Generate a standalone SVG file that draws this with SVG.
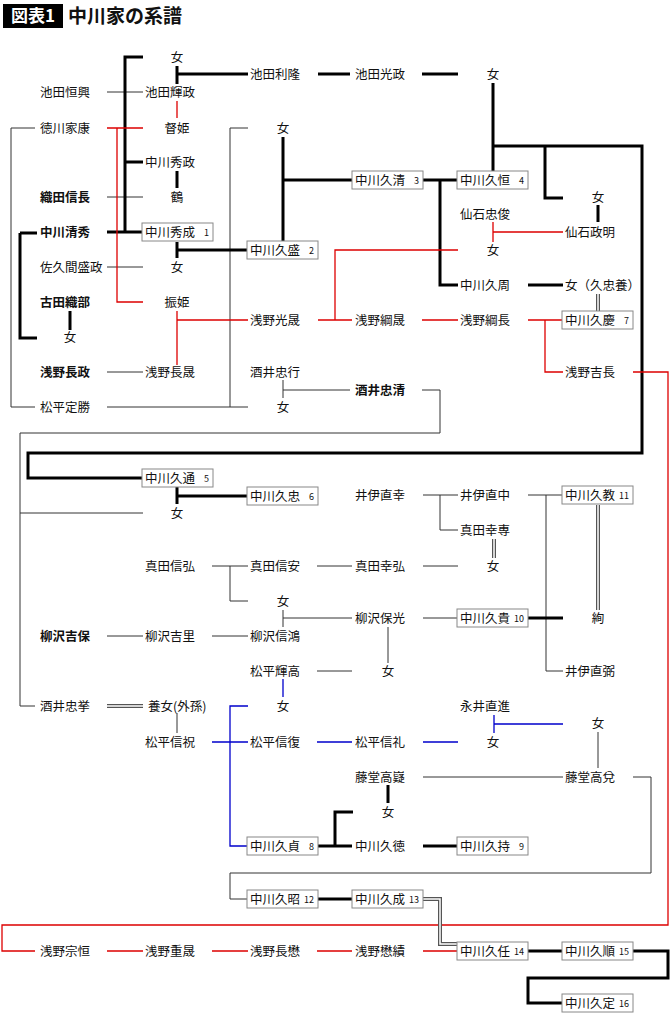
<svg xmlns="http://www.w3.org/2000/svg" width="670" height="1016" viewBox="0 0 670 1016">
<style>
text{font-family:"Noto Sans CJK JP","Noto Sans CJK SC",sans-serif;font-size:12.5px;fill:#111}
.c{text-anchor:middle}.b{font-weight:bold}
.n{font-size:9px;text-anchor:end}
rect.bx{fill:#fff;stroke:#888;stroke-width:1}
path{fill:none}
.t{stroke:#333;stroke-width:1}
.k{stroke:#000;stroke-width:3}
.r{stroke:#d00;stroke-width:1.3}
.u{stroke:#0000cc;stroke-width:1.3}
.d1{stroke:#555;stroke-width:4}
.d2{stroke:#fff;stroke-width:1.5}
</style>
<rect width="670" height="1016" fill="#fff"/>
<g id="title"><rect x="3" y="4" width="60" height="24" fill="#000"/><text x="33" y="22" class="c b" style="font-size:17px;fill:#fff">図表1</text><text x="68" y="23" class="b" style="font-size:19px">中川家の系譜</text></g>
<g id="connectors">
<path class="t" d="M107 92H143M107 197H143M107 267H143M107 372H143M35 128H11V407H35M107 407H248M248 128H230V407M283 380V398M283 390H350M422 390H440V433H20V706H35M20 513H143M423 495H458M440 495V530H458M528 495H563M546 495V671H563M212 566H248M230 566V601H248M317 566H352M423 566H458M283 610V627M283 618H352M423 618H458M388 627V663M107 636H143M212 636H248M317 671H352M177 713V733M598 732V768M423 777H563M633 777H651V873H230V899H248"/>
<path class="k" d="M143 57H125V232M125 162H143M107 232H143M177 66V84M177 74H248M318 74H350M422 74H458M177 171V188M177 242V258M177 250H248M20 233H37M20 233V338H37M70 311V330M283 137V241M283 180H352M493 83V171M493 146H642V453H28V478H143M545 146V198H563M423 180H458M440 180V285H458M598 205V222M528 285H563M177 487V504M177 496H248M528 618H563M388 785V803M353 812H335V846M318 846H352M423 846H458M318 899H352M528 951H563M633 951H668V978H528V1003H563"/>
<path class="r" d="M107 128H143M117 128V302H143M177 101V118M177 311V365M177 320H248M563 232H493M493 222V242M318 320H352M335 320V250H458M422 320H458M528 320H563M545 320V372H563M633 372H668V925H2V951H35M107 951H143M212 951H248M317 951H352M423 951H458"/>
<path class="u" d="M283 679V697M248 706H230V846H248M212 742H248M317 742H352M423 742H458M494 715V733M494 724H563"/>
<path class="d1" d="M598 294V312M598 505V610M494 539V558M107 706H143M423 899H440V944H458"/>
<path class="d2" d="M598 294V312M598 505V610M494 539V558M107 706H143M423 899H440V944H458"/>
</g>
<g id="n1"><text x="177" y="62" class="c">女</text></g>
<g id="n2"><text x="250" y="79">池田利隆</text></g>
<g id="n3"><text x="355" y="79">池田光政</text></g>
<g id="n4"><text x="493" y="79" class="c">女</text></g>
<g id="n5"><text x="40" y="97">池田恒興</text></g>
<g id="n6"><text x="145" y="97">池田輝政</text></g>
<g id="n7"><text x="40" y="133">徳川家康</text></g>
<g id="n8"><text x="177" y="133" class="c">督姫</text></g>
<g id="n9"><text x="283" y="133" class="c">女</text></g>
<g id="n10"><text x="145" y="167">中川秀政</text></g>
<g id="n11"><text x="40" y="202" class="b">織田信長</text></g>
<g id="n12"><text x="177" y="202" class="c">鶴</text></g>
<g id="n13"><rect class="bx" x="352" y="171" width="71" height="18"/><text x="355" y="185">中川久清</text><text x="419" y="184" class="n">3</text></g>
<g id="n14"><rect class="bx" x="457" y="171" width="71" height="18"/><text x="460" y="185">中川久恒</text><text x="524" y="184" class="n">4</text></g>
<g id="n15"><text x="598" y="202" class="c">女</text></g>
<g id="n16"><text x="460" y="219">仙石忠俊</text></g>
<g id="n17"><text x="40" y="237" class="b">中川清秀</text></g>
<g id="n18"><rect class="bx" x="142" y="223" width="71" height="18"/><text x="145" y="237">中川秀成</text><text x="209" y="236" class="n">1</text></g>
<g id="n19"><text x="565" y="237">仙石政明</text></g>
<g id="n20"><rect class="bx" x="247" y="241" width="71" height="18"/><text x="250" y="255">中川久盛</text><text x="314" y="254" class="n">2</text></g>
<g id="n21"><text x="493" y="255" class="c">女</text></g>
<g id="n22"><text x="40" y="272">佐久間盛政</text></g>
<g id="n23"><text x="177" y="272" class="c">女</text></g>
<g id="n24"><text x="460" y="290">中川久周</text></g>
<g id="n25"><text x="565" y="290">女（久忠養）</text></g>
<g id="n26"><text x="40" y="307" class="b">古田織部</text></g>
<g id="n27"><text x="177" y="307" class="c">振姫</text></g>
<g id="n28"><text x="250" y="325">浅野光晟</text></g>
<g id="n29"><text x="355" y="325">浅野綱晟</text></g>
<g id="n30"><text x="460" y="325">浅野綱長</text></g>
<g id="n31"><rect class="bx" x="562" y="311" width="71" height="18"/><text x="565" y="325">中川久慶</text><text x="629" y="324" class="n">7</text></g>
<g id="n32"><text x="70" y="342" class="c">女</text></g>
<g id="n33"><text x="40" y="377" class="b">浅野長政</text></g>
<g id="n34"><text x="145" y="377">浅野長晟</text></g>
<g id="n35"><text x="250" y="377">酒井忠行</text></g>
<g id="n36"><text x="565" y="377">浅野吉長</text></g>
<g id="n37"><text x="355" y="395" class="b">酒井忠清</text></g>
<g id="n38"><text x="40" y="412">松平定勝</text></g>
<g id="n39"><text x="283" y="412" class="c">女</text></g>
<g id="n40"><rect class="bx" x="142" y="469" width="71" height="18"/><text x="145" y="483">中川久通</text><text x="209" y="482" class="n">5</text></g>
<g id="n41"><rect class="bx" x="247" y="487" width="71" height="18"/><text x="250" y="501">中川久忠</text><text x="314" y="500" class="n">6</text></g>
<g id="n42"><text x="177" y="518" class="c">女</text></g>
<g id="n43"><text x="355" y="500">井伊直幸</text></g>
<g id="n44"><text x="460" y="500">井伊直中</text></g>
<g id="n45"><rect class="bx" x="562" y="486" width="71" height="18"/><text x="565" y="500">中川久教</text><text x="629" y="499" class="n">11</text></g>
<g id="n46"><text x="460" y="535">真田幸専</text></g>
<g id="n47"><text x="145" y="571">真田信弘</text></g>
<g id="n48"><text x="250" y="571">真田信安</text></g>
<g id="n49"><text x="355" y="571">真田幸弘</text></g>
<g id="n50"><text x="493" y="571" class="c">女</text></g>
<g id="n51"><text x="283" y="606" class="c">女</text></g>
<g id="n52"><text x="355" y="623">柳沢保光</text></g>
<g id="n53"><rect class="bx" x="457" y="609" width="71" height="18"/><text x="460" y="623">中川久貴</text><text x="524" y="622" class="n">10</text></g>
<g id="n54"><text x="598" y="623" class="c">絢</text></g>
<g id="n55"><text x="40" y="641" class="b">柳沢吉保</text></g>
<g id="n56"><text x="145" y="641">柳沢吉里</text></g>
<g id="n57"><text x="250" y="641">柳沢信鴻</text></g>
<g id="n58"><text x="250" y="676">松平輝高</text></g>
<g id="n59"><text x="388" y="676" class="c">女</text></g>
<g id="n60"><text x="565" y="676">井伊直弼</text></g>
<g id="n61"><text x="40" y="711">酒井忠挙</text></g>
<g id="n62"><text x="148" y="711">養女(外孫)</text></g>
<g id="n63"><text x="283" y="711" class="c">女</text></g>
<g id="n64"><text x="460" y="711">永井直進</text></g>
<g id="n65"><text x="598" y="728" class="c">女</text></g>
<g id="n66"><text x="145" y="747">松平信祝</text></g>
<g id="n67"><text x="250" y="747">松平信復</text></g>
<g id="n68"><text x="355" y="747">松平信礼</text></g>
<g id="n69"><text x="493" y="747" class="c">女</text></g>
<g id="n70"><text x="355" y="782">藤堂高嶷</text></g>
<g id="n71"><text x="565" y="782">藤堂高兌</text></g>
<g id="n72"><text x="388" y="817" class="c">女</text></g>
<g id="n73"><rect class="bx" x="247" y="837" width="71" height="18"/><text x="250" y="851">中川久貞</text><text x="314" y="850" class="n">8</text></g>
<g id="n74"><text x="355" y="851">中川久徳</text></g>
<g id="n75"><rect class="bx" x="457" y="837" width="71" height="18"/><text x="460" y="851">中川久持</text><text x="524" y="850" class="n">9</text></g>
<g id="n76"><rect class="bx" x="247" y="890" width="71" height="18"/><text x="250" y="904">中川久昭</text><text x="314" y="903" class="n">12</text></g>
<g id="n77"><rect class="bx" x="352" y="890" width="71" height="18"/><text x="355" y="904">中川久成</text><text x="419" y="903" class="n">13</text></g>
<g id="n78"><text x="40" y="956">浅野宗恒</text></g>
<g id="n79"><text x="145" y="956">浅野重晟</text></g>
<g id="n80"><text x="250" y="956">浅野長懋</text></g>
<g id="n81"><text x="355" y="956">浅野懋績</text></g>
<g id="n82"><rect class="bx" x="457" y="942" width="71" height="18"/><text x="460" y="956">中川久任</text><text x="524" y="955" class="n">14</text></g>
<g id="n83"><rect class="bx" x="562" y="942" width="71" height="18"/><text x="565" y="956">中川久順</text><text x="629" y="955" class="n">15</text></g>
<g id="n84"><rect class="bx" x="562" y="994" width="71" height="18"/><text x="565" y="1008">中川久定</text><text x="629" y="1007" class="n">16</text></g>
</svg>
